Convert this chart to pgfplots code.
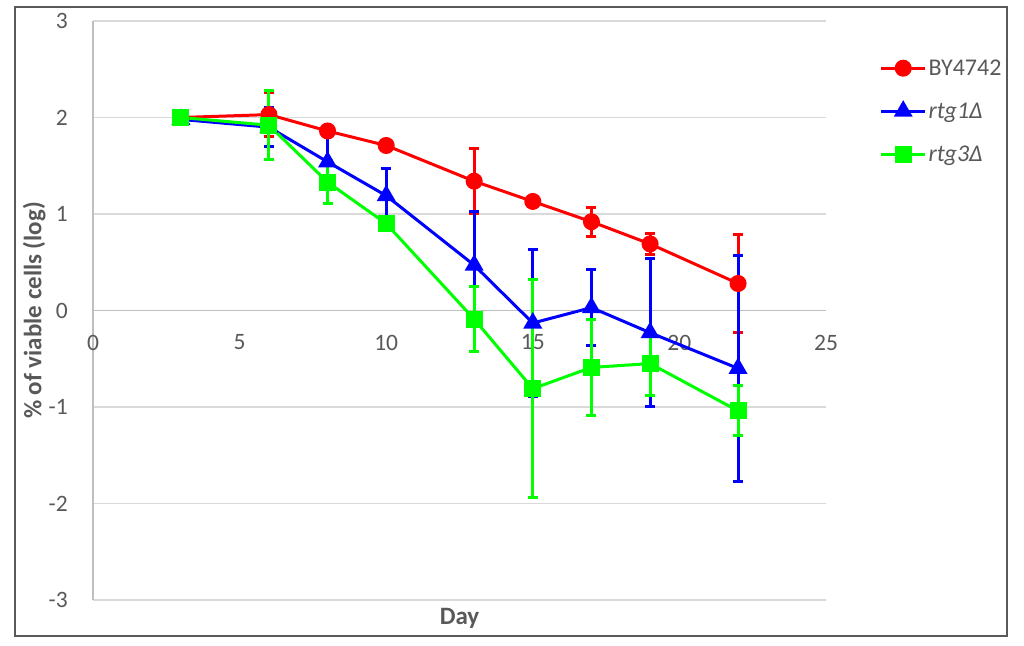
\documentclass[border=0pt]{standalone}
\usepackage{pgfplots}
\pgfplotsset{compat=1.18}
\usepackage{fontspec}
\setmainfont{Carlito}
\definecolor{txt}{HTML}{595959}
\definecolor{gridc}{HTML}{D9D9D9}
\definecolor{axl}{HTML}{BFBFBF}
\definecolor{cR}{HTML}{FF0000}
\definecolor{cB}{HTML}{0000FF}
\definecolor{cG}{HTML}{00FF00}
\begin{document}
\begin{tikzpicture}[x=1pt,y=1pt]
\useasboundingbox (0,0) rectangle (1024,645);
\draw[line width=1.5pt, color=black!65] (15,9) rectangle (1007,638);
\begin{axis}[
  at={(93pt,45pt)}, anchor=south west,
  scale only axis, width=733pt, height=579pt,
  xmin=0, xmax=25, ymin=-3, ymax=3,
  xtick={0,5,...,25}, ytick={-3,...,3},
  axis x line*=middle, axis y line*=left,
  hide obscured x ticks=false, hide obscured y ticks=false,
  x axis line style={axl, line width=1.2pt},
  y axis line style={axl, line width=1.2pt},
  major tick length=0pt,
  ymajorgrids, grid style={gridc, line width=1.2pt},
  tick label style={font=\fontsize{23.5}{25}\selectfont, color=txt, inner sep=0pt},
  /pgf/number format/assume math mode=true,
  xticklabel style={anchor=center, yshift=-32pt},
  yticklabel style={anchor=east, xshift=-25pt},
  xlabel={Day},
  xlabel style={at={(axis description cs:0.5,0)}, anchor=center, yshift=-18pt, font=\bfseries\fontsize{25}{27}\selectfont, color=txt},
  ylabel={\% of viable cells (log)},
  ylabel style={at={(axis description cs:-0.083,0.5)}, anchor=center, yshift=-2pt, font=\bfseries\fontsize{25}{27}\selectfont, color=txt},
  legend style={at={(axis description cs:1.073,0.937)}, anchor=north west, draw=none, fill=none, font=\fontsize{24}{26}\selectfont, text=txt, row sep=22pt, inner sep=0pt, cells={anchor=west}},
  legend image code/.code={\draw[#1, mark repeat=2, mark phase=2] plot coordinates {(0pt,0pt)(22pt,0pt)(44pt,0pt)};},
  clip=false,
]
\addplot[cR, line width=3pt, mark=*, mark size=7pt, mark options={solid},
  error bars/.cd, y dir=both, y explicit,
  error bar style={line width=3pt, cR},
  error mark options={rotate=90, line width=3pt, mark size=5pt, cR}]
coordinates {
(3,2.00) +- (0,0.03)
(6,2.03) +- (0,0.23)
(8,1.86) +- (0,0.05)
(10,1.71) +- (0,0.05)
(13,1.34) +- (0,0.34)
(15,1.13) +- (0,0.03)
(17,0.92) +- (0,0.15)
(19,0.69) +- (0,0.11)
(22,0.28) +- (0,0.51)
};
\addlegendentry{BY4742}
\addplot[cB, line width=3pt, mark=triangle*, mark size=8pt, mark options={solid},
  error bars/.cd, y dir=both, y explicit,
  error bar style={line width=3pt, cB},
  error mark options={rotate=90, line width=3pt, mark size=5pt, cB}]
coordinates {
(3,1.98) +- (0,0.03)
(6,1.90) +- (0,0.20)
(8,1.54) +- (0,0.29)
(10,1.19) +- (0,0.28)
(13,0.47) +- (0,0.56)
(15,-0.13) +- (0,0.76)
(17,0.03) +- (0,0.39)
(19,-0.23) +- (0,0.77)
(22,-0.60) +- (0,1.17)
};
\addlegendentry{\textit{rtg1Δ}}
\addplot[cG, line width=3pt, mark=square*, mark size=7pt, mark options={solid},
  error bars/.cd, y dir=both, y explicit,
  error bar style={line width=3pt, cG},
  error mark options={rotate=90, line width=3pt, mark size=5pt, cG}]
coordinates {
(3,2.00) +- (0,0.02)
(6,1.92) +- (0,0.36)
(8,1.33) +- (0,0.22)
(10,0.90) +- (0,0.05)
(13,-0.09) +- (0,0.34)
(15,-0.81) +- (0,1.13)
(17,-0.59) +- (0,0.50)
(19,-0.55) +- (0,0.33)
(22,-1.04) +- (0,0.26)
};
\addlegendentry{\textit{rtg3Δ}}
\end{axis}
\end{tikzpicture}
\end{document}
